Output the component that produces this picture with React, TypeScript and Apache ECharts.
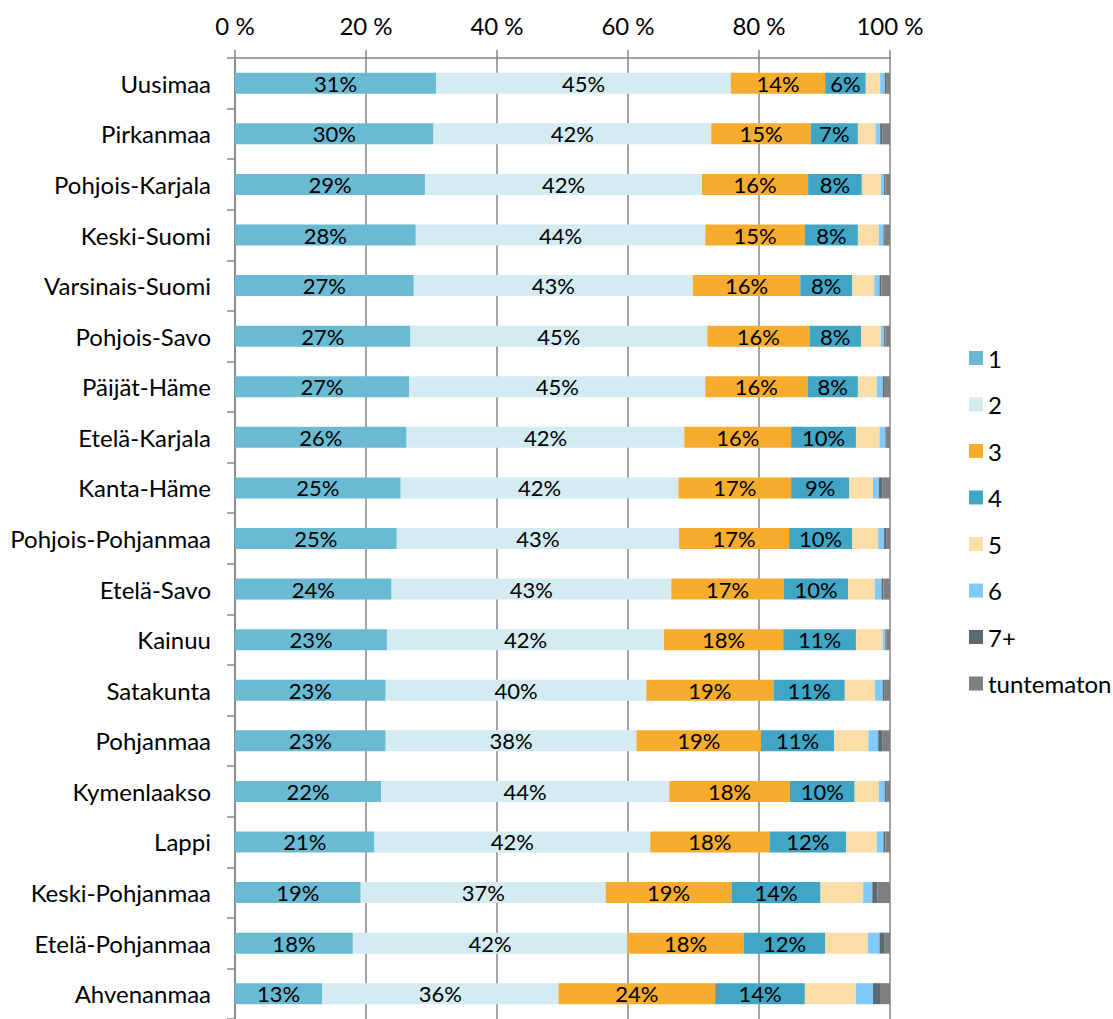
import React, { useEffect, useRef } from "react";
import * as echarts from "echarts";

const regions = [
  "Uusimaa", "Pirkanmaa", "Pohjois-Karjala", "Keski-Suomi", "Varsinais-Suomi",
  "Pohjois-Savo", "Päijät-Häme", "Etelä-Karjala", "Kanta-Häme", "Pohjois-Pohjanmaa",
  "Etelä-Savo", "Kainuu", "Satakunta", "Pohjanmaa", "Kymenlaakso", "Lappi",
  "Keski-Pohjanmaa", "Etelä-Pohjanmaa", "Ahvenanmaa",
];

const seriesNames = ["1", "2", "3", "4", "5", "6", "7+", "tuntematon"];

const s1 = [30.7, 30.3, 29.0, 27.6, 27.3, 26.8, 26.6, 26.2, 25.3, 24.7, 23.9, 23.2, 23.0, 23.0, 22.3, 21.3, 19.2, 18.0, 13.3];
const s2 = [45.0, 42.4, 42.3, 44.2, 42.6, 45.3, 45.2, 42.4, 42.4, 43.1, 42.7, 42.3, 39.8, 38.3, 44.0, 42.1, 37.4, 41.9, 36.1];
const s3 = [14.4, 15.2, 16.2, 15.2, 16.4, 15.6, 15.6, 16.3, 17.2, 16.8, 17.2, 18.2, 19.4, 19.0, 18.4, 18.2, 19.2, 17.8, 23.9];
const s4 = [6.2, 7.2, 8.2, 8.1, 7.9, 7.9, 7.7, 9.9, 8.9, 9.6, 9.8, 11.1, 10.9, 11.2, 9.9, 11.7, 13.6, 12.4, 13.7];
const s5 = [2.2, 2.7, 2.9, 3.2, 3.4, 3.0, 2.9, 3.6, 3.6, 4.0, 4.1, 4.1, 4.6, 5.2, 3.7, 4.7, 6.5, 6.5, 7.8];
const s6 = [0.7, 0.7, 0.5, 0.7, 0.8, 0.5, 0.9, 0.9, 0.9, 0.9, 1.0, 0.4, 1.2, 1.5, 0.9, 1.0, 1.4, 1.8, 2.6];
const s7 = [0.2, 0.3, 0.2, 0.2, 0.3, 0.2, 0.3, 0.2, 0.5, 0.3, 0.3, 0.2, 0.2, 0.6, 0.3, 0.3, 0.8, 0.7, 1.2];
const s8 = [0.6, 1.2, 0.7, 0.8, 1.3, 0.7, 0.8, 0.5, 1.2, 0.6, 1.0, 0.5, 0.9, 1.2, 0.5, 0.7, 1.9, 0.9, 1.4];

const xTicks = [0, 20, 40, 60, 80, 100];

const colors = ["#6BBAD3", "#D4EBF1", "#F7AC2E", "#41A6C6", "#FBDDA8", "#80CAFC", "#5B6970", "#7F7F7F"];
const labeled = [true, true, true, true, false, false, false, false];

const FONT = "Lato, 'Open Sans', sans-serif";

export default function App() {
  const ref = useRef<HTMLDivElement>(null);
  useEffect(() => {
    document.body.style.margin = "0";
    const chart = echarts.init(ref.current!, null, { renderer: "svg" });
    const all = [s1, s2, s3, s4, s5, s6, s7, s8];
    chart.setOption({
      animation: false,
      color: colors,
      textStyle: { fontFamily: FONT },
      grid: { left: 235, top: 58, width: 655, height: 965, containLabel: false },
      legend: {
        orient: "vertical",
        left: 964,
        top: 341,
        itemWidth: 14,
        itemHeight: 14,
        itemGap: 22.5,
        icon: "rect",
        textStyle: { fontSize: 24, color: "#000", fontFamily: FONT },
        data: seriesNames,
      },
      xAxis: {
        type: "value",
        position: "top",
        min: xTicks[0],
        max: xTicks[xTicks.length - 1],
        interval: 20,
        axisLine: { show: true, lineStyle: { color: "#868686", width: 1.5 } },
        axisTick: { show: true, length: 8, lineStyle: { color: "#868686", width: 1.5 } },
        splitLine: { show: true, lineStyle: { color: "#868686", width: 1.5 } },
        axisLabel: { formatter: "{value} %", fontSize: 24, color: "#000", margin: 21, fontFamily: FONT },
      },
      yAxis: {
        type: "category",
        inverse: true,
        data: regions,
        axisLine: { show: true, lineStyle: { color: "#868686", width: 1.5 } },
        axisTick: { show: true, length: 8, alignWithLabel: false, lineStyle: { color: "#868686", width: 1.5 } },
        axisLabel: { fontSize: 24, color: "#000", margin: 24, fontFamily: FONT },
      },
      series: seriesNames.map((name, i) => ({
        name,
        type: "bar",
        stack: "total",
        barWidth: 21,
        data: all[i],
        itemStyle: { color: colors[i] },
        label: labeled[i]
          ? {
              show: true,
              position: "inside",
              color: "#000",
              fontSize: 22,
              fontFamily: FONT,
              formatter: (p: any) => Math.round(p.value) + "%",
            }
          : { show: false },
      })),
    });
    return () => chart.dispose();
  }, []);
  return <div ref={ref} style={{ width: 1113, height: 1019 }} />;
}
